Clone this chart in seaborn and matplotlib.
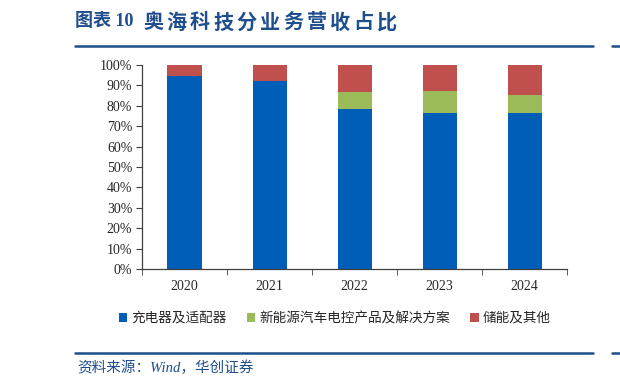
import numpy as np
import matplotlib.pyplot as plt
import seaborn as sns
from matplotlib.patches import Patch
from matplotlib.lines import Line2D

# Data (share of revenue by business)
years = ["2020", "2021", "2022", "2023", "2024"]
charger = [0.944, 0.920, 0.785, 0.763, 0.766]
ev_ctrl = [0.0, 0.0, 0.082, 0.108, 0.088]
storage = [round(1 - a - b, 3) for a, b in zip(charger, ev_ctrl)]
series_names = ["充电器及适配器", "新能源汽车电控产品及解决方案", "储能及其他"]
colors = ["#005EB8", "#9BBB59", "#C0504D"]
title_text = "奥海科技分业务营收占比"

sns.set_style("white")
plt.rcParams["font.family"] = ["Liberation Serif", "Noto Sans CJK SC", "DejaVu Sans"]

fig = plt.figure(figsize=(6.2, 3.89), dpi=100)
ax = fig.add_axes([0.229, 0.3085, 0.686, 0.5245])

bottom = np.zeros(len(years))
for vals, col in zip([charger, ev_ctrl, storage], colors):
    sns.barplot(x=years, y=vals, bottom=bottom, color=col, width=0.4,
                saturation=1, ax=ax, linewidth=0)
    bottom = bottom + np.array(vals)

ax.set_ylim(0, 1)
ax.set_xlim(-0.5, 4.5)
ax.set_yticks(np.arange(0, 1.01, 0.1))
ax.set_yticklabels([f"{int(round(v * 100))}%" for v in np.arange(0, 1.01, 0.1)], fontsize=10)
ax.set_xticks(range(len(years)))
ax.set_xticklabels(years, fontsize=10)
ax.tick_params(axis="x", length=0, pad=8)
ax.set_xticks(np.arange(-0.5, 4.6, 1), minor=True)
ax.tick_params(axis="x", which="minor", length=4, direction="out", color="#404040", bottom=True)
ax.tick_params(axis="y", length=4, direction="out", color="#404040", left=True, pad=3)
for s in ["top", "right"]:
    ax.spines[s].set_visible(False)
for s in ["left", "bottom"]:
    ax.spines[s].set_color("#404040")
    ax.spines[s].set_linewidth(0.9)
ax.set_xlabel("")
ax.set_ylabel("")

handles = [Patch(facecolor=c, edgecolor="none") for c in colors]
fig.legend(handles, series_names, loc="center", bbox_to_anchor=(0.54, 1 - 318 / 389),
           ncol=3, frameon=False, handlelength=0.6, handleheight=0.6,
           handletextpad=0.3, columnspacing=1.5,
           prop={"family": ["Noto Sans CJK SC"], "size": 9.8})

navy = "#1F4E8C"
fig.text(75 / 620, 1 - 22 / 389, "图表 10", fontsize=13,
         fontweight="bold", color=navy, va="center", ha="left",
         family=["Liberation Serif", "Noto Sans CJK SC"])
# title characters spaced out like the original
for i, ch in enumerate(title_text):
    fig.text((143 + i * 23.4) / 620, 1 - 22 / 389, ch, fontsize=14.5,
             fontweight="bold", color=navy, va="center", ha="left",
             family=["Noto Sans CJK SC"])
fig.add_artist(Line2D([75 / 620, 593 / 620], [1 - 46 / 389] * 2, color=navy, lw=1.8))
fig.add_artist(Line2D([75 / 620, 593 / 620], [1 - 353 / 389] * 2, color=navy, lw=1.8))
fig.add_artist(Line2D([612 / 620, 1.0], [1 - 46 / 389] * 2, color=navy, lw=1.8))
fig.add_artist(Line2D([612 / 620, 1.0], [1 - 353 / 389] * 2, color=navy, lw=1.8))
fig.text(77 / 620, 1 - 368 / 389, "资料来源：Wind，华创证券", fontsize=10.5, style="italic",
         color=navy, va="center", ha="left",
         family=["Liberation Serif", "Noto Sans CJK SC"])

fig.savefig("out.png", dpi=100)
